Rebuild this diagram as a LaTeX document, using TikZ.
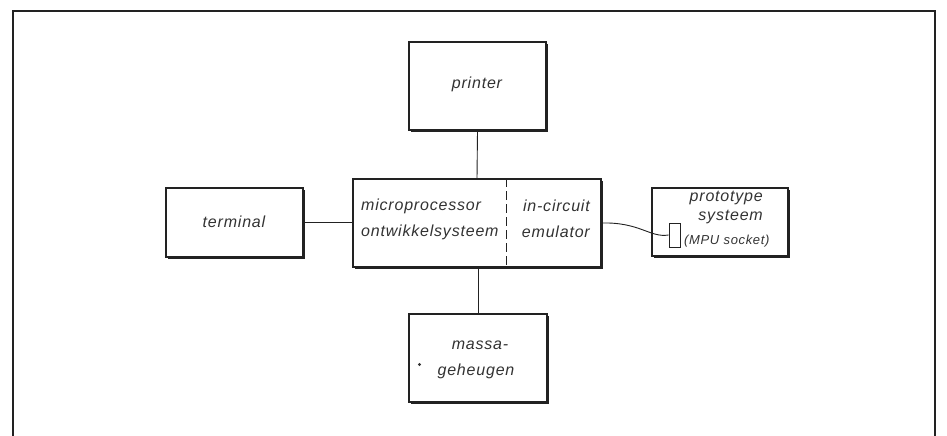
\documentclass[tikz,border=0pt]{standalone}
\usepackage{fontspec}
\setmainfont{Liberation Sans}[LetterSpace=5]
\usetikzlibrary{shadows}
\definecolor{ink}{HTML}{222222}
\definecolor{txt}{HTML}{333333}
\tikzset{
  blk/.style={draw=ink, line width=1.1pt, fill=white, inner sep=0pt,
    drop shadow={shadow xshift=2.2pt, shadow yshift=-2.2pt, fill=ink, opacity=1}},
  lbl/.style={font=\fontsize{16}{18}\selectfont\itshape, text=txt, inner sep=0pt},
  sml/.style={font=\fontsize{13}{15}\selectfont\itshape, text=txt, inner sep=0pt},
  wire/.style={draw=ink, line width=0.9pt},
}
\begin{document}
\begin{tikzpicture}[x=1pt,y=-1pt]
\useasboundingbox (0,0) rectangle (947,436);
% frame
\draw[ink, line width=1.8pt] (13,436) -- (13,11) -- (935,11) -- (935,436);
% boxes
\node[blk, minimum width=137pt, minimum height=88pt] (printer) at (477.5,86) {};
\node[blk, minimum width=137pt, minimum height=69pt] (terminal) at (234.5,222.5) {};
\node[blk, minimum width=248pt, minimum height=88pt] (mds) at (477,223) {};
\node[blk, minimum width=138pt, minimum height=88pt] (massa) at (478,358) {};
\node[blk, minimum width=136pt, minimum height=68pt] (proto) at (720,222) {};
\node[draw=ink, line width=0.9pt, fill=white, minimum width=11pt, minimum height=24pt, inner sep=0pt] (socket) at (674.5,235) {};
% divider
\draw[ink, line width=0.9pt, dash pattern=on 9pt off 4pt] (mds.north -| 506,0) -- (mds.south -| 506,0);
% connectors
\draw[wire] (printer.south) -- (mds.north);
\draw[wire] (terminal.east) -- (mds.west |- terminal.east);
\draw[wire] (massa.north) -- (mds.south -| massa.north);
\draw[wire] (mds.east) .. controls (640,222) and (650,238) .. (socket.west);
% labels
\node[lbl] (tprinter) at (477,84) {printer};
\node[lbl] (tterminal) at (234,222) {terminal};
\node[lbl, anchor=west] (tmicro) at (361,206) {microprocessor};
\node[lbl, anchor=west] (tontw) at (361,232) {ontwikkelsysteem};
\node[lbl, anchor=east] (tinc) at (590,206) {in-circuit};
\node[lbl, anchor=east] (temu) at (590,232) {emulator};
\node[lbl, anchor=east] (tproto) at (763,198) {prototype};
\node[lbl, anchor=east] (tsys) at (763,217) {systeem};
\node[sml, anchor=west] (tmpu) at (684,241) {(MPU socket)};
\node[lbl] (tmassa) at (480,345) {massa-};
\node[lbl] (tgeh) at (476,371) {geheugen};
\fill[txt] (419.5,364.5) circle (1.6pt);
\end{tikzpicture}
\end{document}
